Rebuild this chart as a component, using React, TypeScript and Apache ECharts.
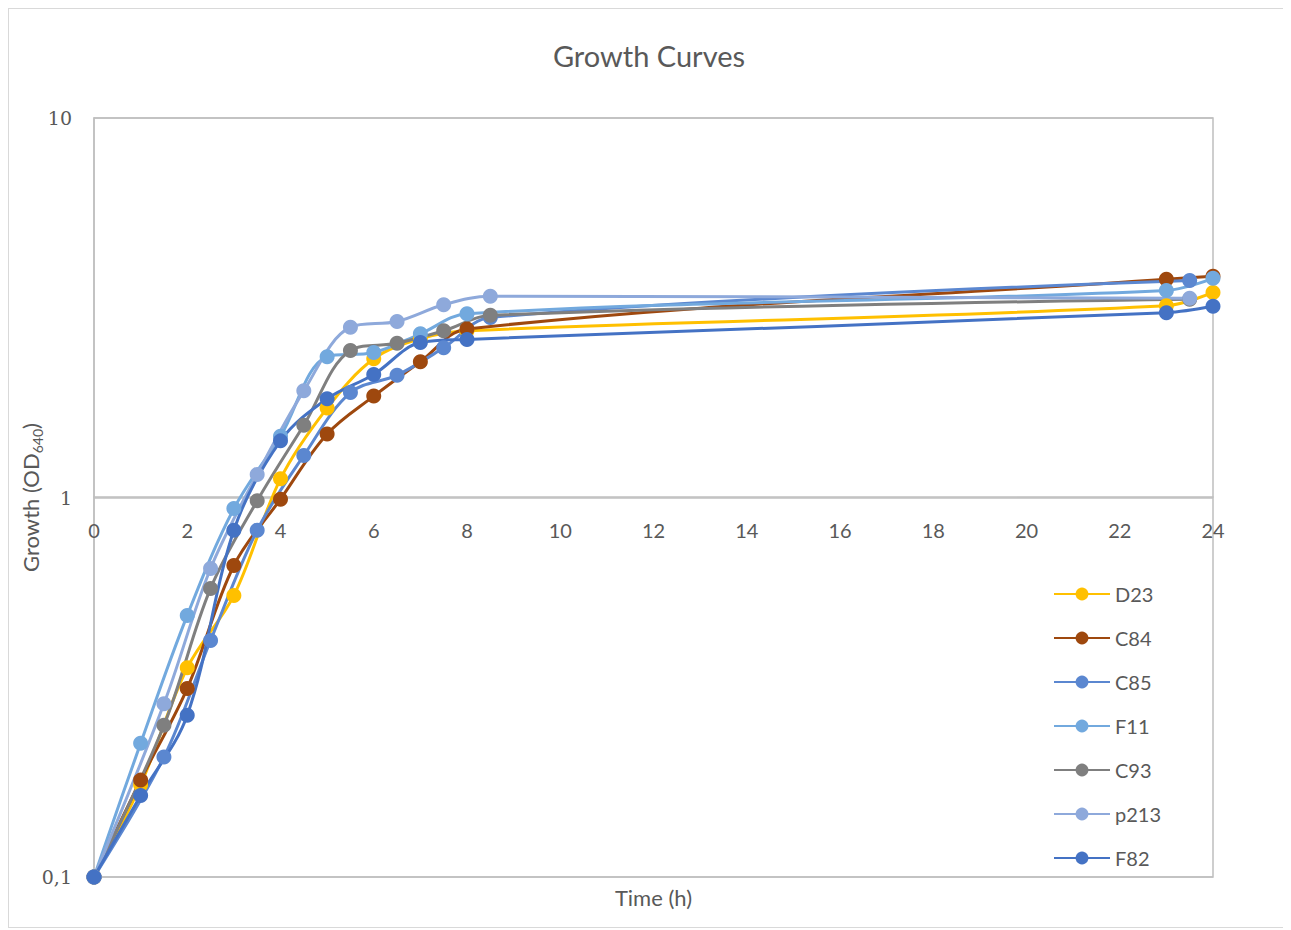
import React, { useEffect, useRef } from "react";
import * as echarts from "echarts";

const timesInt = [0, 1, 2, 3, 4, 5, 6, 7, 8, 23, 24];
const timesHalf = [0, 1.5, 2.5, 3.5, 4.5, 5.5, 6.5, 7.5, 8.5, 23.5];

const d23 = [0.1, 0.175, 0.356, 0.552, 1.12, 1.72, 2.32, 2.62, 2.75, 3.2, 3.47];
const c84 = [0.1, 0.18, 0.314, 0.662, 0.99, 1.47, 1.85, 2.28, 2.78, 3.76, 3.83];
const c85 = [0.1, 0.207, 0.42, 0.82, 1.29, 1.89, 2.1, 2.48, 2.98, 3.73];
const f11 = [0.1, 0.225, 0.489, 0.935, 1.45, 2.35, 2.41, 2.7, 3.05, 3.51, 3.78];
const c93 = [0.1, 0.251, 0.576, 0.98, 1.55, 2.44, 2.55, 2.75, 3.02, 3.33];
const p213 = [0.1, 0.286, 0.65, 1.15, 1.91, 2.81, 2.91, 3.22, 3.39, 3.35];
const f82 = [0.1, 0.164, 0.267, 0.82, 1.41, 1.82, 2.11, 2.56, 2.61, 3.07, 3.19];

const seriesDefs = [
  { name: "D23", times: timesInt, values: d23, color: "#FFC000" },
  { name: "C84", times: timesInt, values: c84, color: "#9E480E" },
  { name: "C85", times: timesHalf, values: c85, color: "#5B87D0" },
  { name: "F11", times: timesInt, values: f11, color: "#72A9DE" },
  { name: "C93", times: timesHalf, values: c93, color: "#7F7F7F" },
  { name: "p213", times: timesHalf, values: p213, color: "#8EA9DB" },
  { name: "F82", times: timesInt, values: f82, color: "#4472C4" },
];

const xTicks = [0, 2, 4, 6, 8, 10, 12, 14, 16, 18, 20, 22, 24];

const FONT = "Lato, 'Noto Sans', sans-serif";

export default function App() {
  const ref = useRef<HTMLDivElement>(null);
  useEffect(() => {
    if (!ref.current) return;
    const chart = echarts.init(ref.current, undefined, { renderer: "svg" });
    chart.setOption({
      animation: false,
      backgroundColor: "#ffffff",
      textStyle: { fontFamily: FONT },
      title: {
        text: "Growth Curves",
        left: "center",
        top: 27,
        textStyle: { fontFamily: FONT, fontSize: 29, fontWeight: "normal", color: "#595959" },
      },
      grid: {
        left: 85,
        top: 109,
        width: 1119,
        height: 759,
        show: true,
        borderColor: "#bfbfbf",
        borderWidth: 1.5,
        backgroundColor: "transparent",
        containLabel: false,
        outerBoundsMode: "none",
      },
      legend: {
        orient: "vertical",
        left: 1039,
        top: 570,
        itemWidth: 56,
        itemHeight: 16,
        itemGap: 24,
        textStyle: { fontFamily: FONT, fontSize: 20, color: "#595959" },
        data: seriesDefs.map((s) => s.name),
      },
      xAxis: {
        type: "value",
        min: 0,
        max: 24,
        interval: 2,
        offset: -380,
        axisLine: { show: true, lineStyle: { color: "#bfbfbf", width: 1.5 } },
        axisTick: { show: false },
        splitLine: { show: false },
        axisLabel: {
          margin: 23,
          fontSize: 20,
          color: "#595959",
          fontFamily: FONT,
          formatter: (v: number) => (xTicks.includes(v) ? String(v) : ""),
        },
        name: "Time (h)",
        nameLocation: "middle",
        nameGap: 389,
        nameMoveOverlap: false,
        nameTextStyle: { fontSize: 22, color: "#595959", fontFamily: FONT },
      },
      yAxis: {
        type: "log",
        logBase: 10,
        min: 0.1,
        max: 10,
        axisLine: { show: true, lineStyle: { color: "#bfbfbf", width: 1.5 } },
        axisTick: { show: false },
        splitLine: { show: true, lineStyle: { color: "#bfbfbf", width: 1.5 } },
        axisLabel: {
          margin: 22,
          fontSize: 19,
          color: "#595959",
          fontFamily: "'DejaVu Serif', serif",
          formatter: (v: number) => (Math.abs(v - 0.1) < 1e-9 ? "0,1" : String(Math.round(v))),
        },
        name: "{a|Growth (OD}{b|640}{a|)}",
        nameLocation: "middle",
        nameGap: 50,
        nameMoveOverlap: false,
        nameRotate: 90,
        nameTextStyle: {
          color: "#595959",
          fontFamily: FONT,
          rich: {
            a: { fontSize: 22, color: "#595959", fontFamily: FONT, lineHeight: 28, verticalAlign: "middle" },
            b: { fontSize: 14, color: "#595959", fontFamily: FONT, lineHeight: 28, verticalAlign: "bottom", padding: [10, 0, 0, 0] },
          },
        },
      },
      series: seriesDefs.map((s) => ({
        name: s.name,
        type: "line",
        smooth: 0.35,
        symbol: "circle",
        symbolSize: 15,
        data: s.times.map((t, i) => [t, s.values[i]]),
        itemStyle: { color: s.color },
        lineStyle: { color: s.color, width: 3 },
      })),
    });
    return () => chart.dispose();
  }, []);
  return (
    <div
      ref={ref}
      style={{ width: 1280, height: 918, border: "1px solid #d9d9d9" }}
    />
  );
}
